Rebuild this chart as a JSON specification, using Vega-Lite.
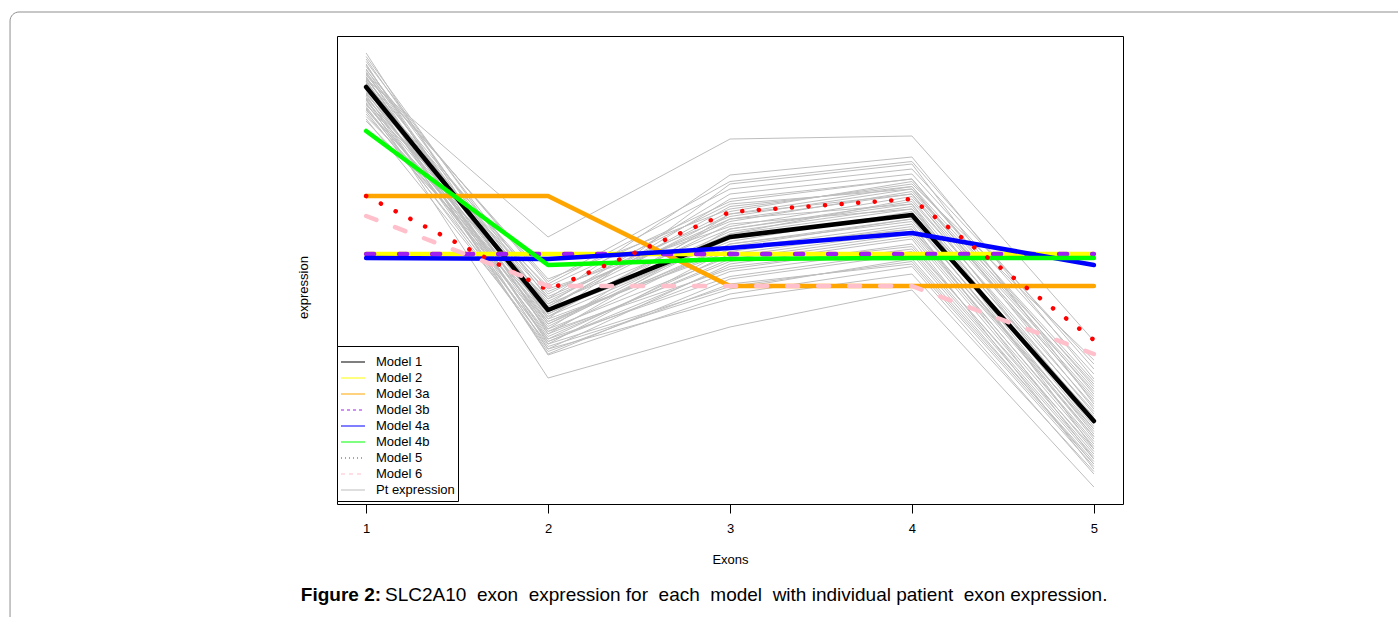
{
  "$schema": "https://vega.github.io/schema/vega-lite/v6.json",
  "width": 786,
  "height": 468,
  "autosize": {"type": "none"},
  "padding": {"left": 337, "top": 36, "right": 275, "bottom": 113},
  "background": "white",
  "config": {
    "font": "Liberation Sans",
    "view": {"stroke": "black", "strokeWidth": 1},
    "axis": {
      "grid": false,
      "domain": false,
      "labelFont": "Liberation Sans",
      "labelFontSize": 13,
      "labelColor": "black",
      "titleFont": "Liberation Sans",
      "titleFontSize": 13,
      "titleFontWeight": "normal",
      "titleColor": "black",
      "tickColor": "black"
    }
  },
  "datasets": {
    "patients": [
      {"patient": 1, "exon": 1, "expression": 8.6}, {"patient": 1, "exon": 2, "expression": 5.44}, {"patient": 1, "exon": 3, "expression": 7.4}, {"patient": 1, "exon": 4, "expression": 7.46}, {"patient": 1, "exon": 5, "expression": 3.36},
      {"patient": 2, "exon": 1, "expression": 8.2}, {"patient": 2, "exon": 2, "expression": 2.62}, {"patient": 2, "exon": 3, "expression": 3.64}, {"patient": 2, "exon": 4, "expression": 4.38}, {"patient": 2, "exon": 5, "expression": 0.44},
      {"patient": 3, "exon": 1, "expression": 9.12}, {"patient": 3, "exon": 2, "expression": 3.5}, {"patient": 3, "exon": 3, "expression": 5.6}, {"patient": 3, "exon": 4, "expression": 6.1}, {"patient": 3, "exon": 5, "expression": 1.2},
      {"patient": 4, "exon": 1, "expression": 9.0}, {"patient": 4, "exon": 2, "expression": 3.8}, {"patient": 4, "exon": 3, "expression": 6.5}, {"patient": 4, "exon": 4, "expression": 6.9}, {"patient": 4, "exon": 5, "expression": 2.1},
      {"patient": 5, "exon": 1, "expression": 8.95}, {"patient": 5, "exon": 2, "expression": 4.2}, {"patient": 5, "exon": 3, "expression": 6.68}, {"patient": 5, "exon": 4, "expression": 7.04}, {"patient": 5, "exon": 5, "expression": 2.6},
      {"patient": 6, "exon": 1, "expression": 8.9}, {"patient": 6, "exon": 2, "expression": 3.3}, {"patient": 6, "exon": 3, "expression": 5.2}, {"patient": 6, "exon": 4, "expression": 5.7}, {"patient": 6, "exon": 5, "expression": 1.0},
      {"patient": 7, "exon": 1, "expression": 8.85}, {"patient": 7, "exon": 2, "expression": 4.0}, {"patient": 7, "exon": 3, "expression": 6.2}, {"patient": 7, "exon": 4, "expression": 6.6}, {"patient": 7, "exon": 5, "expression": 2.3},
      {"patient": 8, "exon": 1, "expression": 8.8}, {"patient": 8, "exon": 2, "expression": 3.6}, {"patient": 8, "exon": 3, "expression": 5.9}, {"patient": 8, "exon": 4, "expression": 6.3}, {"patient": 8, "exon": 5, "expression": 1.7},
      {"patient": 9, "exon": 1, "expression": 8.78}, {"patient": 9, "exon": 2, "expression": 4.5}, {"patient": 9, "exon": 3, "expression": 6.4}, {"patient": 9, "exon": 4, "expression": 6.8}, {"patient": 9, "exon": 5, "expression": 2.9},
      {"patient": 10, "exon": 1, "expression": 8.75}, {"patient": 10, "exon": 2, "expression": 3.2}, {"patient": 10, "exon": 3, "expression": 4.9}, {"patient": 10, "exon": 4, "expression": 5.4}, {"patient": 10, "exon": 5, "expression": 0.8},
      {"patient": 11, "exon": 1, "expression": 8.7}, {"patient": 11, "exon": 2, "expression": 3.9}, {"patient": 11, "exon": 3, "expression": 5.7}, {"patient": 11, "exon": 4, "expression": 6.0}, {"patient": 11, "exon": 5, "expression": 1.6},
      {"patient": 12, "exon": 1, "expression": 8.68}, {"patient": 12, "exon": 2, "expression": 4.6}, {"patient": 12, "exon": 3, "expression": 6.0}, {"patient": 12, "exon": 4, "expression": 6.5}, {"patient": 12, "exon": 5, "expression": 2.98},
      {"patient": 13, "exon": 1, "expression": 8.65}, {"patient": 13, "exon": 2, "expression": 3.4}, {"patient": 13, "exon": 3, "expression": 5.1}, {"patient": 13, "exon": 4, "expression": 5.6}, {"patient": 13, "exon": 5, "expression": 1.3},
      {"patient": 14, "exon": 1, "expression": 8.62}, {"patient": 14, "exon": 2, "expression": 3.7}, {"patient": 14, "exon": 3, "expression": 5.5}, {"patient": 14, "exon": 4, "expression": 6.2}, {"patient": 14, "exon": 5, "expression": 1.9},
      {"patient": 15, "exon": 1, "expression": 8.6}, {"patient": 15, "exon": 2, "expression": 4.3}, {"patient": 15, "exon": 3, "expression": 6.1}, {"patient": 15, "exon": 4, "expression": 6.4}, {"patient": 15, "exon": 5, "expression": 2.4},
      {"patient": 16, "exon": 1, "expression": 8.58}, {"patient": 16, "exon": 2, "expression": 3.1}, {"patient": 16, "exon": 3, "expression": 4.6}, {"patient": 16, "exon": 4, "expression": 5.1}, {"patient": 16, "exon": 5, "expression": 0.9},
      {"patient": 17, "exon": 1, "expression": 8.55}, {"patient": 17, "exon": 2, "expression": 3.85}, {"patient": 17, "exon": 3, "expression": 5.8}, {"patient": 17, "exon": 4, "expression": 6.1}, {"patient": 17, "exon": 5, "expression": 1.8},
      {"patient": 18, "exon": 1, "expression": 8.52}, {"patient": 18, "exon": 2, "expression": 4.1}, {"patient": 18, "exon": 3, "expression": 6.3}, {"patient": 18, "exon": 4, "expression": 6.7}, {"patient": 18, "exon": 5, "expression": 2.7},
      {"patient": 19, "exon": 1, "expression": 8.5}, {"patient": 19, "exon": 2, "expression": 3.55}, {"patient": 19, "exon": 3, "expression": 4.8}, {"patient": 19, "exon": 4, "expression": 5.3}, {"patient": 19, "exon": 5, "expression": 1.1},
      {"patient": 20, "exon": 1, "expression": 8.48}, {"patient": 20, "exon": 2, "expression": 3.95}, {"patient": 20, "exon": 3, "expression": 5.35}, {"patient": 20, "exon": 4, "expression": 5.95}, {"patient": 20, "exon": 5, "expression": 1.5},
      {"patient": 21, "exon": 1, "expression": 8.45}, {"patient": 21, "exon": 2, "expression": 4.4}, {"patient": 21, "exon": 3, "expression": 5.65}, {"patient": 21, "exon": 4, "expression": 6.25}, {"patient": 21, "exon": 5, "expression": 2.2},
      {"patient": 22, "exon": 1, "expression": 8.42}, {"patient": 22, "exon": 2, "expression": 3.25}, {"patient": 22, "exon": 3, "expression": 4.4}, {"patient": 22, "exon": 4, "expression": 5.0}, {"patient": 22, "exon": 5, "expression": 0.95},
      {"patient": 23, "exon": 1, "expression": 8.4}, {"patient": 23, "exon": 2, "expression": 3.75}, {"patient": 23, "exon": 3, "expression": 5.25}, {"patient": 23, "exon": 4, "expression": 5.8}, {"patient": 23, "exon": 5, "expression": 1.4},
      {"patient": 24, "exon": 1, "expression": 8.38}, {"patient": 24, "exon": 2, "expression": 4.05}, {"patient": 24, "exon": 3, "expression": 6.05}, {"patient": 24, "exon": 4, "expression": 6.45}, {"patient": 24, "exon": 5, "expression": 2.5},
      {"patient": 25, "exon": 1, "expression": 8.35}, {"patient": 25, "exon": 2, "expression": 3.45}, {"patient": 25, "exon": 3, "expression": 5.0}, {"patient": 25, "exon": 4, "expression": 5.5}, {"patient": 25, "exon": 5, "expression": 1.25},
      {"patient": 26, "exon": 1, "expression": 8.32}, {"patient": 26, "exon": 2, "expression": 3.65}, {"patient": 26, "exon": 3, "expression": 5.45}, {"patient": 26, "exon": 4, "expression": 5.85}, {"patient": 26, "exon": 5, "expression": 1.75},
      {"patient": 27, "exon": 1, "expression": 8.3}, {"patient": 27, "exon": 2, "expression": 4.25}, {"patient": 27, "exon": 3, "expression": 5.75}, {"patient": 27, "exon": 4, "expression": 6.35}, {"patient": 27, "exon": 5, "expression": 2.35},
      {"patient": 28, "exon": 1, "expression": 8.28}, {"patient": 28, "exon": 2, "expression": 3.15}, {"patient": 28, "exon": 3, "expression": 4.5}, {"patient": 28, "exon": 4, "expression": 4.9}, {"patient": 28, "exon": 5, "expression": 0.85},
      {"patient": 29, "exon": 1, "expression": 8.25}, {"patient": 29, "exon": 2, "expression": 3.9}, {"patient": 29, "exon": 3, "expression": 5.55}, {"patient": 29, "exon": 4, "expression": 6.05}, {"patient": 29, "exon": 5, "expression": 1.65},
      {"patient": 30, "exon": 1, "expression": 8.22}, {"patient": 30, "exon": 2, "expression": 4.15}, {"patient": 30, "exon": 3, "expression": 5.95}, {"patient": 30, "exon": 4, "expression": 6.55}, {"patient": 30, "exon": 5, "expression": 2.55},
      {"patient": 31, "exon": 1, "expression": 8.2}, {"patient": 31, "exon": 2, "expression": 3.35}, {"patient": 31, "exon": 3, "expression": 4.75}, {"patient": 31, "exon": 4, "expression": 5.2}, {"patient": 31, "exon": 5, "expression": 1.05},
      {"patient": 32, "exon": 1, "expression": 8.18}, {"patient": 32, "exon": 2, "expression": 3.8}, {"patient": 32, "exon": 3, "expression": 5.15}, {"patient": 32, "exon": 4, "expression": 5.65}, {"patient": 32, "exon": 5, "expression": 1.45},
      {"patient": 33, "exon": 1, "expression": 8.15}, {"patient": 33, "exon": 2, "expression": 4.35}, {"patient": 33, "exon": 3, "expression": 5.85}, {"patient": 33, "exon": 4, "expression": 6.4}, {"patient": 33, "exon": 5, "expression": 2.15},
      {"patient": 34, "exon": 1, "expression": 8.12}, {"patient": 34, "exon": 2, "expression": 3.5}, {"patient": 34, "exon": 3, "expression": 4.95}, {"patient": 34, "exon": 4, "expression": 5.45}, {"patient": 34, "exon": 5, "expression": 1.15},
      {"patient": 35, "exon": 1, "expression": 8.1}, {"patient": 35, "exon": 2, "expression": 3.7}, {"patient": 35, "exon": 3, "expression": 5.3}, {"patient": 35, "exon": 4, "expression": 5.75}, {"patient": 35, "exon": 5, "expression": 1.55},
      {"patient": 36, "exon": 1, "expression": 8.08}, {"patient": 36, "exon": 2, "expression": 4.45}, {"patient": 36, "exon": 3, "expression": 6.15}, {"patient": 36, "exon": 4, "expression": 6.6}, {"patient": 36, "exon": 5, "expression": 2.45},
      {"patient": 37, "exon": 1, "expression": 8.05}, {"patient": 37, "exon": 2, "expression": 3.2}, {"patient": 37, "exon": 3, "expression": 4.2}, {"patient": 37, "exon": 4, "expression": 4.7}, {"patient": 37, "exon": 5, "expression": 0.75},
      {"patient": 38, "exon": 1, "expression": 8.02}, {"patient": 38, "exon": 2, "expression": 3.85}, {"patient": 38, "exon": 3, "expression": 5.4}, {"patient": 38, "exon": 4, "expression": 5.9}, {"patient": 38, "exon": 5, "expression": 1.85},
      {"patient": 39, "exon": 1, "expression": 8.0}, {"patient": 39, "exon": 2, "expression": 3.6}, {"patient": 39, "exon": 3, "expression": 5.05}, {"patient": 39, "exon": 4, "expression": 5.55}, {"patient": 39, "exon": 5, "expression": 1.35},
      {"patient": 40, "exon": 1, "expression": 7.98}, {"patient": 40, "exon": 2, "expression": 4.1}, {"patient": 40, "exon": 3, "expression": 5.6}, {"patient": 40, "exon": 4, "expression": 6.15}, {"patient": 40, "exon": 5, "expression": 2.05},
      {"patient": 41, "exon": 1, "expression": 7.95}, {"patient": 41, "exon": 2, "expression": 3.4}, {"patient": 41, "exon": 3, "expression": 4.65}, {"patient": 41, "exon": 4, "expression": 5.15}, {"patient": 41, "exon": 5, "expression": 1.0},
      {"patient": 42, "exon": 1, "expression": 7.9}, {"patient": 42, "exon": 2, "expression": 3.75}, {"patient": 42, "exon": 3, "expression": 5.2}, {"patient": 42, "exon": 4, "expression": 5.6}, {"patient": 42, "exon": 5, "expression": 1.6},
      {"patient": 43, "exon": 1, "expression": 7.85}, {"patient": 43, "exon": 2, "expression": 4.2}, {"patient": 43, "exon": 3, "expression": 5.8}, {"patient": 43, "exon": 4, "expression": 6.3}, {"patient": 43, "exon": 5, "expression": 2.25},
      {"patient": 44, "exon": 1, "expression": 7.8}, {"patient": 44, "exon": 2, "expression": 3.3}, {"patient": 44, "exon": 3, "expression": 4.45}, {"patient": 44, "exon": 4, "expression": 4.95}, {"patient": 44, "exon": 5, "expression": 0.9},
      {"patient": 45, "exon": 1, "expression": 7.76}, {"patient": 45, "exon": 2, "expression": 3.95}, {"patient": 45, "exon": 3, "expression": 5.5}, {"patient": 45, "exon": 4, "expression": 6.0}, {"patient": 45, "exon": 5, "expression": 1.95},
      {"patient": 46, "exon": 1, "expression": 9.05}, {"patient": 46, "exon": 2, "expression": 4.05}, {"patient": 46, "exon": 3, "expression": 5.9}, {"patient": 46, "exon": 4, "expression": 6.45}, {"patient": 46, "exon": 5, "expression": 2.0},
      {"patient": 47, "exon": 1, "expression": 8.88}, {"patient": 47, "exon": 2, "expression": 3.55}, {"patient": 47, "exon": 3, "expression": 5.3}, {"patient": 47, "exon": 4, "expression": 5.8}, {"patient": 47, "exon": 5, "expression": 1.45},
      {"patient": 48, "exon": 1, "expression": 8.72}, {"patient": 48, "exon": 2, "expression": 4.55}, {"patient": 48, "exon": 3, "expression": 6.55}, {"patient": 48, "exon": 4, "expression": 6.95}, {"patient": 48, "exon": 5, "expression": 2.8},
      {"patient": 49, "exon": 1, "expression": 8.64}, {"patient": 49, "exon": 2, "expression": 3.35}, {"patient": 49, "exon": 3, "expression": 4.85}, {"patient": 49, "exon": 4, "expression": 5.25}, {"patient": 49, "exon": 5, "expression": 1.2},
      {"patient": 50, "exon": 1, "expression": 8.56}, {"patient": 50, "exon": 2, "expression": 3.08}, {"patient": 50, "exon": 3, "expression": 4.3}, {"patient": 50, "exon": 4, "expression": 4.85}, {"patient": 50, "exon": 5, "expression": 0.7}
    ],
    "models": [
      {"series": "Model 1", "exon": 1, "expression": 8.44}, {"series": "Model 1", "exon": 2, "expression": 3.98}, {"series": "Model 1", "exon": 3, "expression": 5.44}, {"series": "Model 1", "exon": 4, "expression": 5.88}, {"series": "Model 1", "exon": 5, "expression": 1.76},
      {"series": "Model 2", "exon": 1, "expression": 5.1}, {"series": "Model 2", "exon": 2, "expression": 5.1}, {"series": "Model 2", "exon": 3, "expression": 5.1}, {"series": "Model 2", "exon": 4, "expression": 5.1}, {"series": "Model 2", "exon": 5, "expression": 5.1},
      {"series": "Model 3a", "exon": 1, "expression": 6.26}, {"series": "Model 3a", "exon": 2, "expression": 6.26}, {"series": "Model 3a", "exon": 3, "expression": 4.46}, {"series": "Model 3a", "exon": 4, "expression": 4.46}, {"series": "Model 3a", "exon": 5, "expression": 4.46},
      {"series": "Model 3b", "exon": 1, "expression": 5.1}, {"series": "Model 3b", "exon": 2, "expression": 5.1}, {"series": "Model 3b", "exon": 3, "expression": 5.1}, {"series": "Model 3b", "exon": 4, "expression": 5.1}, {"series": "Model 3b", "exon": 5, "expression": 5.1},
      {"series": "Model 4a", "exon": 1, "expression": 5.02}, {"series": "Model 4a", "exon": 2, "expression": 5.0}, {"series": "Model 4a", "exon": 3, "expression": 5.22}, {"series": "Model 4a", "exon": 4, "expression": 5.52}, {"series": "Model 4a", "exon": 5, "expression": 4.88},
      {"series": "Model 4b", "exon": 1, "expression": 7.56}, {"series": "Model 4b", "exon": 2, "expression": 4.88}, {"series": "Model 4b", "exon": 3, "expression": 5.0}, {"series": "Model 4b", "exon": 4, "expression": 5.02}, {"series": "Model 4b", "exon": 5, "expression": 5.02},
      {"series": "Model 5", "exon": 1, "expression": 6.26}, {"series": "Model 5", "exon": 2, "expression": 4.38}, {"series": "Model 5", "exon": 3, "expression": 5.94}, {"series": "Model 5", "exon": 4, "expression": 6.2}, {"series": "Model 5", "exon": 5, "expression": 3.38},
      {"series": "Model 6", "exon": 1, "expression": 5.86}, {"series": "Model 6", "exon": 2, "expression": 4.46}, {"series": "Model 6", "exon": 3, "expression": 4.46}, {"series": "Model 6", "exon": 4, "expression": 4.46}, {"series": "Model 6", "exon": 5, "expression": 3.1}
    ]
  },
  "layer": [
    {
      "description": "Light rounded frame around the whole figure",
      "data": {"values": [{}]},
      "mark": {"type": "rect", "filled": false, "stroke": "#8f8f8f", "strokeWidth": 1, "cornerRadius": 9},
      "encoding": {
        "x": {"datum": -0.957, "type": "quantitative"},
        "x2": {"datum": 9},
        "y": {"datum": 9.94, "type": "quantitative"},
        "y2": {"datum": -4}
      }
    },
    {
      "description": "Individual patient exon expression",
      "data": {"name": "patients"},
      "transform": [{"calculate": "'Pt expression'", "as": "series"}],
      "mark": {"type": "line", "strokeWidth": 1},
      "encoding": {
        "x": {
          "field": "exon", "type": "quantitative",
          "scale": {"domain": [0.84, 5.16], "nice": false, "zero": false},
          "axis": {"values": [1, 2, 3, 4, 5], "format": "d", "title": "Exons", "tickSize": 9, "labelPadding": 9, "titlePadding": 18}
        },
        "y": {
          "field": "expression", "type": "quantitative",
          "scale": {"domain": [0.1, 9.46], "nice": false, "zero": false},
          "axis": {"title": "expression", "labels": false, "ticks": false, "titlePadding": 27, "titleY": 251}
        },
        "detail": {"field": "patient"},
        "color": {
          "field": "series", "type": "nominal",
          "scale": {
            "domain": ["Model 1", "Model 2", "Model 3a", "Model 3b", "Model 4a", "Model 4b", "Model 5", "Model 6", "Pt expression"],
            "range": ["#000000", "#FFFF00", "#FFA500", "#A020F0", "#0000FF", "#00FF00", "#FF0000", "#FFC0CB", "#BEBEBE"]
          },
          "legend": {
            "title": "\u00a0",
            "titleFontSize": 4,
            "titlePadding": 1,
            "orient": "none",
            "legendX": 0,
            "legendY": 310,
            "symbolType": "stroke",
            "symbolSize": 576,
            "symbolStrokeWidth": 1.2,
            "clipHeight": 16,
            "rowPadding": 0,
            "labelFont": "Liberation Sans",
            "labelFontSize": 13,
            "labelColor": "black",
            "labelOffset": 10,
            "padding": 3,
            "strokeColor": "black",
            "fillColor": "white",
            "cornerRadius": 0,
            "encode": {
              "symbols": {
                "update": {
                  "strokeDash": {"signal": "datum.value === 'Model 3b' ? [3, 3] : datum.value === 'Model 5' ? [1, 3] : datum.value === 'Model 6' ? [4, 4] : [1, 0]"}
                }
              }
            }
          }
        }
      }
    },
    {
      "description": "Models 1, 2 and 3a (solid)",
      "data": {"name": "models"},
      "transform": [{"filter": {"field": "series", "oneOf": ["Model 1", "Model 2", "Model 3a"]}}],
      "mark": {"type": "line", "strokeWidth": 4.5, "strokeCap": "round", "strokeJoin": "round"},
      "encoding": {
        "x": {"field": "exon", "type": "quantitative"},
        "y": {"field": "expression", "type": "quantitative"},
        "color": {"field": "series", "type": "nominal"}
      }
    },
    {
      "description": "Model 3b (dashed)",
      "data": {"name": "models"},
      "transform": [{"filter": {"field": "series", "equal": "Model 3b"}}],
      "mark": {"type": "line", "strokeWidth": 4.5, "strokeCap": "round", "strokeJoin": "round", "strokeDash": [8, 25]},
      "encoding": {
        "x": {"field": "exon", "type": "quantitative"},
        "y": {"field": "expression", "type": "quantitative"},
        "color": {"field": "series", "type": "nominal"}
      }
    },
    {
      "description": "Models 4a and 4b (solid)",
      "data": {"name": "models"},
      "transform": [{"filter": {"field": "series", "oneOf": ["Model 4a", "Model 4b"]}}],
      "mark": {"type": "line", "strokeWidth": 4.5, "strokeCap": "round", "strokeJoin": "round"},
      "encoding": {
        "x": {"field": "exon", "type": "quantitative"},
        "y": {"field": "expression", "type": "quantitative"},
        "color": {"field": "series", "type": "nominal"}
      }
    },
    {
      "description": "Model 5 (dotted)",
      "data": {"name": "models"},
      "transform": [{"filter": {"field": "series", "equal": "Model 5"}}],
      "mark": {"type": "line", "strokeWidth": 4.5, "strokeCap": "round", "strokeJoin": "round", "strokeDash": [0.1, 16.5]},
      "encoding": {
        "x": {"field": "exon", "type": "quantitative"},
        "y": {"field": "expression", "type": "quantitative"},
        "color": {"field": "series", "type": "nominal"}
      }
    },
    {
      "description": "Model 6 (dashed)",
      "data": {"name": "models"},
      "transform": [{"filter": {"field": "series", "equal": "Model 6"}}],
      "mark": {"type": "line", "strokeWidth": 4.5, "strokeCap": "round", "strokeJoin": "round", "strokeDash": [11, 20]},
      "encoding": {
        "x": {"field": "exon", "type": "quantitative"},
        "y": {"field": "expression", "type": "quantitative"},
        "color": {"field": "series", "type": "nominal"}
      }
    },
    {
      "description": "Caption label",
      "data": {"values": [{"caption": "Figure 2:"}]},
      "mark": {"type": "text", "align": "right", "baseline": "middle", "font": "Liberation Sans", "fontSize": 19, "fontWeight": "bold", "color": "black"},
      "encoding": {
        "text": {"field": "caption"},
        "x": {"datum": 1.082, "type": "quantitative"},
        "y": {"datum": -1.72, "type": "quantitative"}
      }
    },
    {
      "description": "Caption text",
      "data": {"values": [{"caption": "SLC2A10\u00a0 exon\u00a0 expression for\u00a0 each\u00a0 model\u00a0 with individual patient\u00a0 exon expression."}]},
      "mark": {"type": "text", "align": "left", "baseline": "middle", "dx": 4, "font": "Liberation Sans", "fontSize": 19, "color": "black"},
      "encoding": {
        "text": {"field": "caption"},
        "x": {"datum": 1.082, "type": "quantitative"},
        "y": {"datum": -1.72, "type": "quantitative"}
      }
    }
  ]
}
